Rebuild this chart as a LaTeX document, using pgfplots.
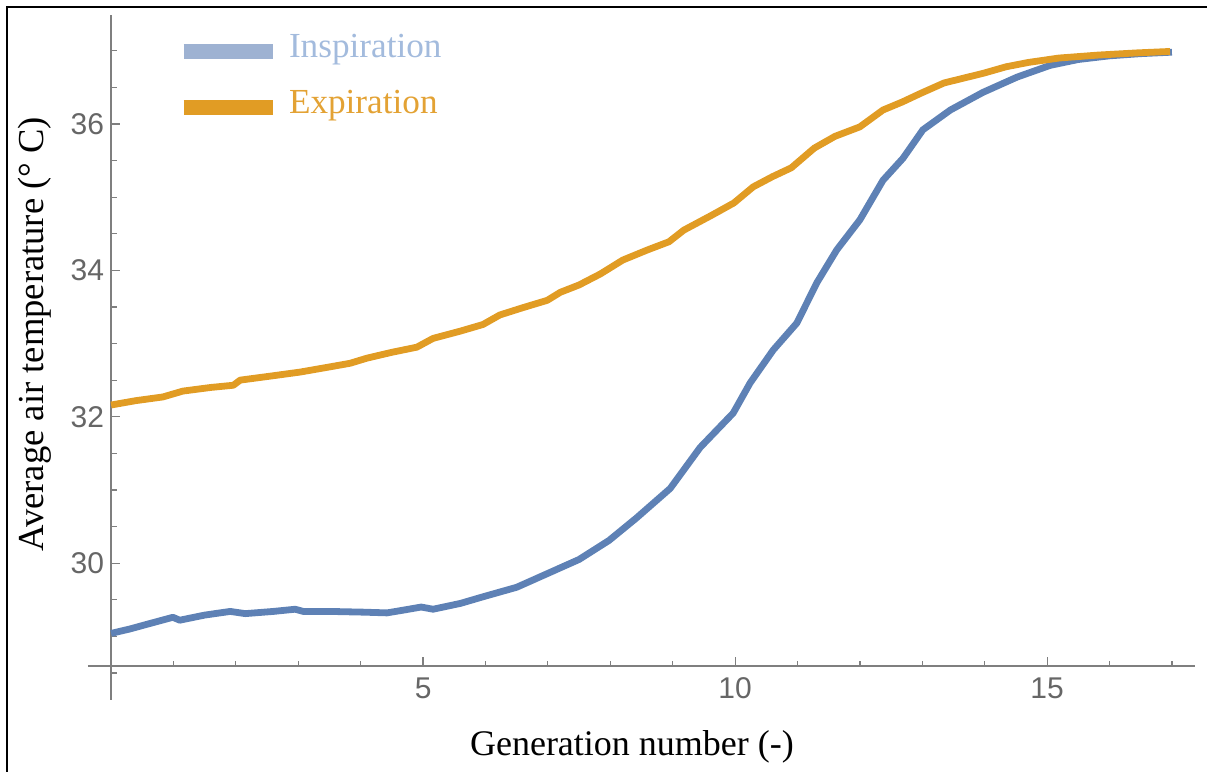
\documentclass[border=0pt]{standalone}
\usepackage{fontspec}
\setmainfont{Liberation Serif}
\newfontfamily\ticksans{Liberation Sans}
\usepackage{pgfplots}
\pgfplotsset{compat=1.18}

\definecolor{inspblue}{HTML}{5E81B5}
\definecolor{exporange}{HTML}{E19C24}
\definecolor{inspleg}{HTML}{9EB2D2}
\definecolor{insptext}{HTML}{A3BBDD}
\definecolor{exptext}{HTML}{E3A234}
\definecolor{axisgray}{HTML}{7F7F7F}
\definecolor{labgray}{HTML}{666666}

\begin{document}
\begin{tikzpicture}
\begin{axis}[
  scale only axis, width=553.5pt, height=342.5pt,
  xmin=-0.37, xmax=17.37, ymin=28.13, ymax=37.488,
  axis x line=bottom, axis y line=left,
  axis x line shift=-16.84pt, axis y line shift=-11.54pt,
  axis line style={-, axisgray, line width=0.9pt},
  every outer x axis line/.append style={-},
  every outer y axis line/.append style={-},
  xtick={5,10,15},
  minor xtick={1,2,3,4,6,7,8,9,11,12,13,14,16,17},
  ytick={30,32,34,36},
  minor ytick={28.5,29,29.5,30.5,31,31.5,32.5,33,33.5,34.5,35,35.5,36.5,37},
  tick align=inside,
  major tick length=4.5pt, minor tick length=2.8pt,
  tick style={axisgray, line width=0.6pt},
  tick label style={font=\ticksans\fontsize{15}{18}\selectfont, text=labgray},
  xticklabel style={yshift=-2pt},
  /pgf/number format/assume math mode=true,
  xlabel={Generation number (-)},
  xlabel style={at={(axis description cs:0.4914,-0.0803)}, anchor=base,
    font=\fontsize{18}{21}\selectfont},
  ylabel={Average air temperature (° C)},
  ylabel style={at={(axis description cs:-0.04065,0.534)}, anchor=base,
    font=\fontsize{18.3}{21}\selectfont},
  legend cell align=left,
  legend style={draw=none, fill=none, at={(axis description cs:0.0795,0.9723)},
    anchor=north west, inner sep=0pt, outer sep=0pt, row sep=12pt, column sep=4.5pt,
    nodes={inner sep=0pt, text height=12pt, text depth=4pt,
      font=\fontsize{17.6}{20}\selectfont}},
]
\coordinate (o) at (rel axis cs:0,0);

\addplot[inspblue, line width=3.4pt, line join=round,
  legend image code/.code={\draw[inspleg, line width=7.5pt] (0pt,-0.8pt) -- (44.5pt,-0.8pt);}]
  table {
x y
0 29.04
0.3 29.10
0.6 29.17
0.99 29.26
1.1 29.22
1.5 29.29
1.91 29.34
2.15 29.31
2.6 29.34
2.95 29.37
3.08 29.34
3.5 29.34
4.05 29.33
4.42 29.32
4.7 29.36
4.97 29.40
5.16 29.37
5.6 29.45
5.96 29.54
6.5 29.67
7.0 29.86
7.5 30.05
7.98 30.31
8.41 30.61
8.96 31.02
9.44 31.58
9.97 32.05
10.24 32.46
10.61 32.91
10.99 33.28
11.31 33.83
11.63 34.28
12.00 34.69
12.37 35.23
12.69 35.53
13.01 35.92
13.45 36.19
13.97 36.43
14.52 36.64
15.05 36.80
15.5 36.88
16.0 36.93
16.5 36.96
17 36.98
};
\addlegendentry{\textcolor{insptext}{Inspiration}}

\addplot[exporange, line width=3.4pt, line join=round,
  legend image code/.code={\draw[exporange, line width=7.5pt] (0pt,-0.8pt) -- (44.5pt,-0.8pt);}]
  table {
x y
0 32.16
0.4 32.22
0.83 32.27
1.15 32.35
1.6 32.40
1.96 32.43
2.07 32.50
2.6 32.56
3.03 32.61
3.5 32.68
3.83 32.73
4.1 32.80
4.5 32.88
4.9 32.95
5.16 33.07
5.6 33.17
5.96 33.26
6.23 33.39
6.6 33.49
6.99 33.59
7.2 33.70
7.5 33.80
7.84 33.95
8.2 34.14
8.6 34.28
8.94 34.39
9.18 34.55
9.62 34.75
9.98 34.92
10.29 35.14
10.6 35.28
10.9 35.40
11.27 35.67
11.6 35.83
12.0 35.96
12.37 36.19
12.68 36.30
12.98 36.42
13.35 36.56
13.97 36.69
14.34 36.78
14.7 36.84
15.19 36.90
15.81 36.94
16.43 36.97
16.97 36.99
};
\addlegendentry{\textcolor{exptext}{Expiration}}
\end{axis}
\pgfresetboundingbox
\path[use as bounding box] ([shift={(-44pt,-36pt)}]o) rectangle ([shift={(559.5pt,350pt)}]o);
\draw[line width=1.3pt] ([shift={(-40.5pt,-40pt)}]o) -- ([shift={(-40.5pt,346.5pt)}]o) -- ([shift={(562pt,346.5pt)}]o);
\end{tikzpicture}
\end{document}
